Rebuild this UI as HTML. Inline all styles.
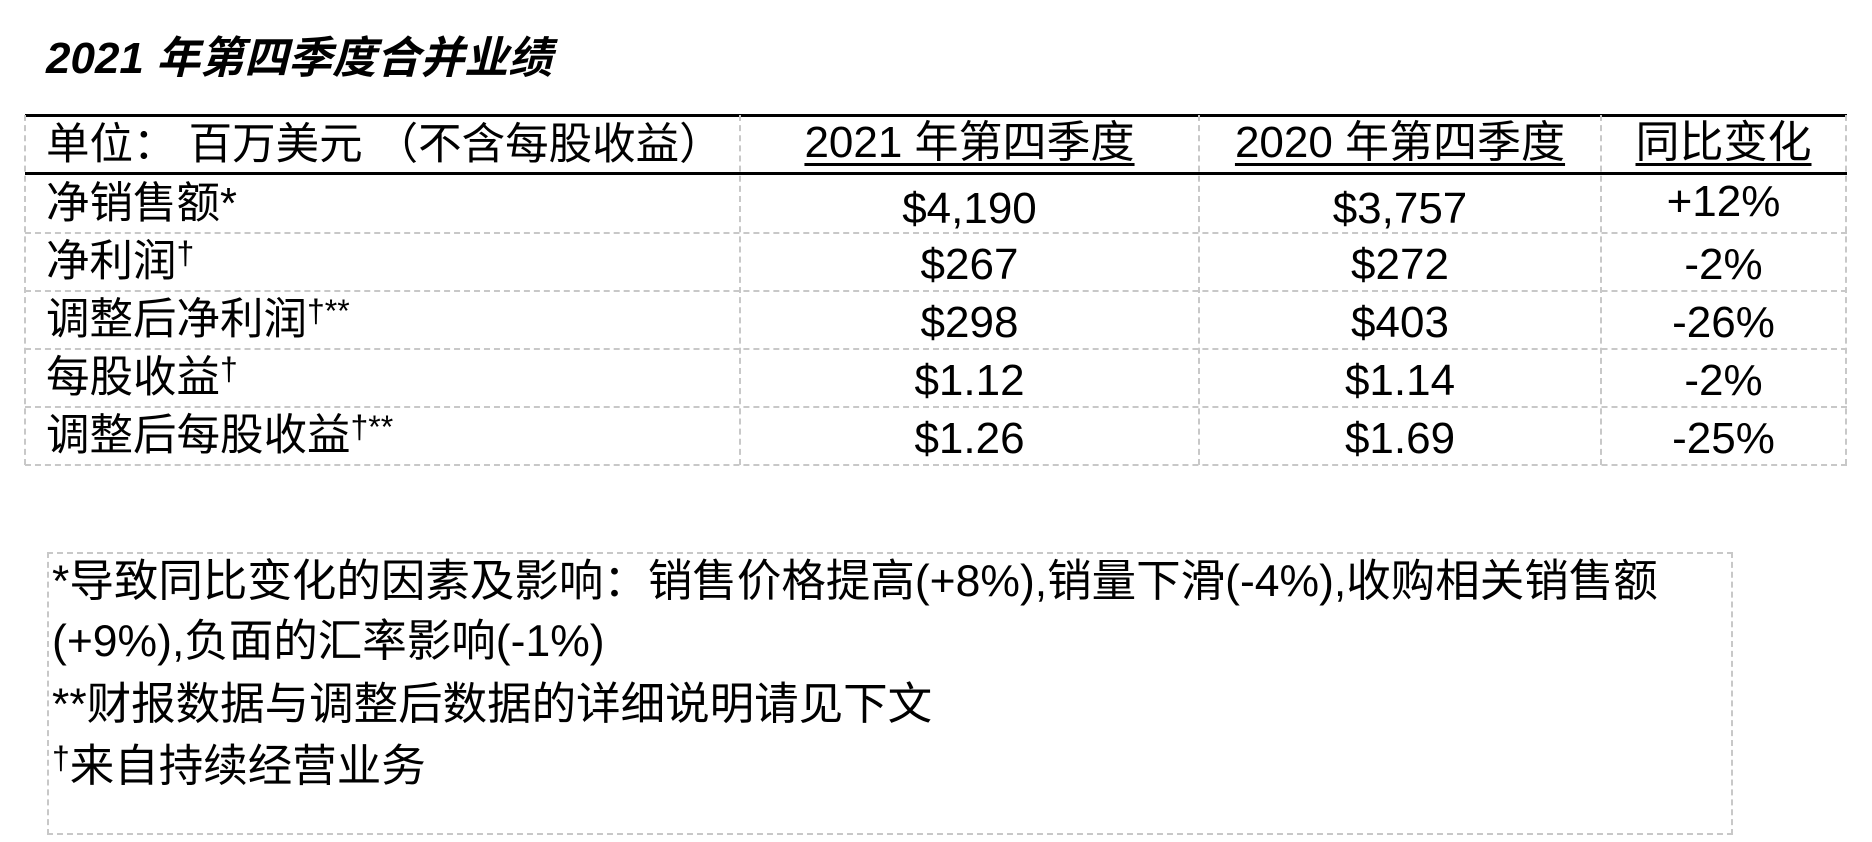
<!DOCTYPE html>
<html><head><meta charset="utf-8"><style>
body{margin:0;width:1872px;height:842px;background:#fff;position:relative;overflow:hidden;font-family:"Liberation Sans","Noto Sans CJK SC",sans-serif;color:#000}
.a{position:absolute;white-space:nowrap}
.t{font-size:44px;font-weight:bold;font-style:italic;left:46px;top:22px}
.hl{position:absolute;background:#000}
.vl{position:absolute;border-left:2px dashed #c8c8c8;width:0}
.rl{position:absolute;border-top:2px dashed #c8c8c8;height:0}
.c{position:absolute;font-size:44px;line-height:58px;text-align:center;white-space:nowrap}
.l{position:absolute;font-size:43.5px;line-height:58px;left:46px;white-space:nowrap}
u{text-decoration-thickness:3px;text-underline-offset:6px}
.n{position:absolute;font-size:44.5px;left:52px;line-height:58px;white-space:nowrap}
.d{font-size:32px;vertical-align:top;line-height:40px}
</style></head><body>
<div class="a t">2021 年第四季度合并业绩</div>
<div class="hl" style="left:25px;top:114px;width:1822px;height:3px"></div>
<div class="hl" style="left:25px;top:172px;width:1822px;height:3px"></div>
<div class="rl" style="left:25px;top:232px;width:1822px"></div>
<div class="rl" style="left:25px;top:290px;width:1822px"></div>
<div class="rl" style="left:25px;top:348px;width:1822px"></div>
<div class="rl" style="left:25px;top:406px;width:1822px"></div>
<div class="rl" style="left:25px;top:464px;width:1822px"></div>
<div class="vl" style="left:24px;top:115px;height:350px"></div>
<div class="vl" style="left:739px;top:115px;height:350px"></div>
<div class="vl" style="left:1198px;top:115px;height:350px"></div>
<div class="vl" style="left:1600px;top:115px;height:350px"></div>
<div class="vl" style="left:1845px;top:115px;height:350px"></div>
<div class="l" style="top:116px">单位：&nbsp;百万美元&nbsp;（不含每股收益）</div>
<div class="c" style="left:740px;width:459px;top:114px"><u>2021 年第四季度</u></div>
<div class="c" style="left:1199px;width:402px;top:114px"><u>2020 年第四季度</u></div>
<div class="c" style="left:1601px;width:245px;top:114px"><u>同比变化</u></div>

<div class="l" style="top:175px">净销售额*</div>
<div class="c" style="left:740px;width:459px;top:180px">$4,190</div>
<div class="c" style="left:1199px;width:402px;top:180px">$3,757</div>
<div class="c" style="left:1601px;width:245px;top:173px">+12%</div>

<div class="l" style="top:233px">净利润<span class="d">†</span></div>
<div class="c" style="left:740px;width:459px;top:236px">$267</div>
<div class="c" style="left:1199px;width:402px;top:236px">$272</div>
<div class="c" style="left:1601px;width:245px;top:236px">-2%</div>

<div class="l" style="top:291px">调整后净利润<span class="d">†**</span></div>
<div class="c" style="left:740px;width:459px;top:294px">$298</div>
<div class="c" style="left:1199px;width:402px;top:294px">$403</div>
<div class="c" style="left:1601px;width:245px;top:294px">-26%</div>

<div class="l" style="top:349px">每股收益<span class="d">†</span></div>
<div class="c" style="left:740px;width:459px;top:352px">$1.12</div>
<div class="c" style="left:1199px;width:402px;top:352px">$1.14</div>
<div class="c" style="left:1601px;width:245px;top:352px">-2%</div>

<div class="l" style="top:407px">调整后每股收益<span class="d">†**</span></div>
<div class="c" style="left:740px;width:459px;top:410px">$1.26</div>
<div class="c" style="left:1199px;width:402px;top:410px">$1.69</div>
<div class="c" style="left:1601px;width:245px;top:410px">-25%</div>

<div style="position:absolute;left:47px;top:552px;width:1682px;height:279px;border:2px dashed #c8c8c8"></div>
<div class="n" style="top:553px">*导致同比变化的因素及影响：销售价格提高(+8%),销量下滑(-4%),收购相关销售额</div>
<div class="n" style="top:613px">(+9%),负面的汇率影响(-1%)</div>
<div class="n" style="top:676px">**财报数据与调整后数据的详细说明请见下文</div>
<div class="n" style="top:738px"><span class="d">†</span>来自持续经营业务</div>
</body></html>
